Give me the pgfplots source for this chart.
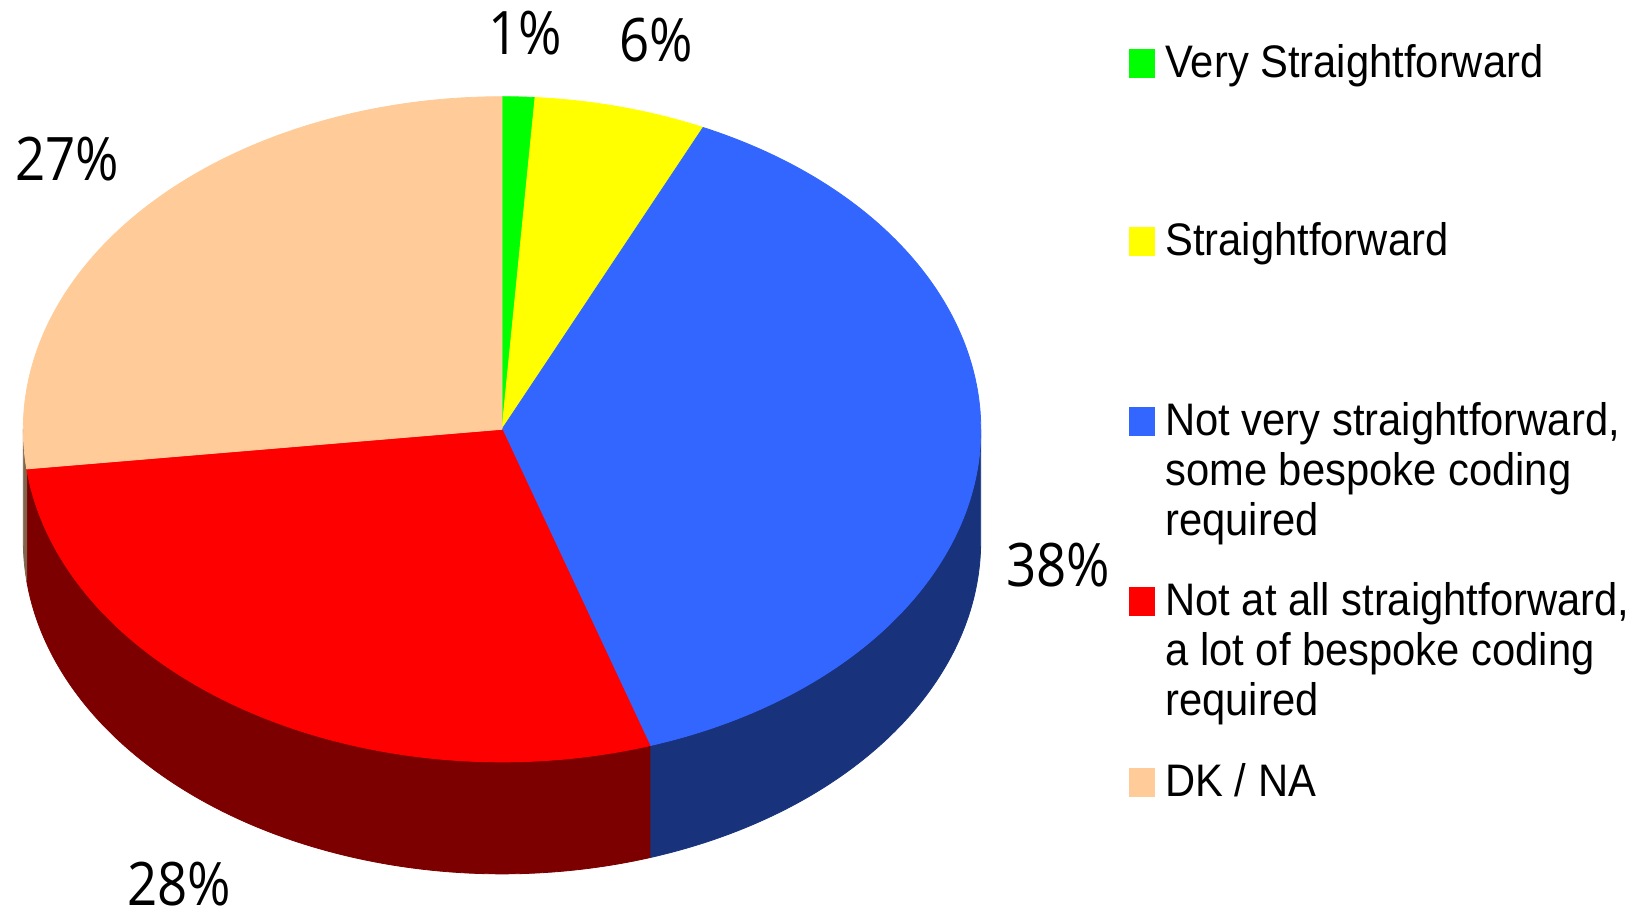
\documentclass[border=0pt]{standalone}
\usepackage{pgfplots}
\pgfplotsset{compat=1.18}
\usepackage{pgfplotstable}
\usepackage{fontspec}
\setmainfont{Liberation Sans}
\newfontfamily\pctfont[FakeStretch=0.88]{Open Sans}
\newfontfamily\legfont[FakeStretch=0.915]{Liberation Sans}
\definecolor{cGreen}{RGB}{0,255,0}
\definecolor{cYellow}{RGB}{255,255,0}
\definecolor{cBlue}{RGB}{51,102,255}
\definecolor{cRed}{RGB}{255,0,0}
\definecolor{cDK}{RGB}{255,204,153}
\definecolor{sBlue}{RGB}{24,51,124}
\definecolor{sRed}{RGB}{124,0,0}
\definecolor{sDK}{RGB}{128,102,77}

\pgfplotstableread{
idx value
0 1.1
1 5.8
2 38.1
3 28.1
4 26.9
}\piedata

\def\cx{502}\def\cy{429.3}\def\rx{478.7}\def\ry{332.6}
\def\rxl{239.35pt}\def\ryl{166.3pt}\def\depl{56pt}

\newcommand\topslice[3]{%
  \filldraw[fill=#1, draw=#1, line width=0.4pt, line join=round]
    (axis cs:\cx,\cy) -- (axis cs:{\cx+\rx*sin(#2)},{\cy-\ry*cos(#2)})
    arc[start angle={90-#2}, end angle={90-#3}, x radius=\rxl, y radius=\ryl] -- cycle;}
\newcommand\sideslice[3]{%
  \filldraw[fill=#1, draw=#1, line width=0.4pt, line join=round]
    (axis cs:{\cx+\rx*sin(#2)},{\cy-\ry*cos(#2)})
    arc[start angle={90-#2}, end angle={90-#3}, x radius=\rxl, y radius=\ryl]
    -- ++(0pt,-\depl)
    arc[start angle={90-#3}, end angle={90-#2}, x radius=\rxl, y radius=\ryl] -- cycle;}
\newcommand\legsq[2]{%
  \fill[#1] (axis cs:1129,{#2-28.5}) rectangle (axis cs:1155,{#2+0.5});}
\newcommand\legline[2]{%
  \node[anchor=base west, inner sep=0pt, font=\legfont\fontsize{22.8}{25}\selectfont]
    at (axis cs:1165,#1) {#2};}
\newcommand\pct[3]{%
  \node[inner sep=0pt, font=\pctfont\fontsize{30}{36}\selectfont] at (axis cs:#1,#2) {#3};}

\begin{document}
\begin{tikzpicture}
\pgfplotstablegetelem{0}{value}\of\piedata \let\vA\pgfplotsretval
\pgfplotstablegetelem{1}{value}\of\piedata \let\vB\pgfplotsretval
\pgfplotstablegetelem{2}{value}\of\piedata \let\vC\pgfplotsretval
\pgfplotstablegetelem{3}{value}\of\piedata \let\vD\pgfplotsretval
\pgfplotstablegetelem{4}{value}\of\piedata \let\vE\pgfplotsretval
\pgfmathsetmacro\tA{0}
\pgfmathsetmacro\tB{3.6*\vA}
\pgfmathsetmacro\tC{\tB+3.6*\vB}
\pgfmathsetmacro\tD{\tC+3.6*\vC}
\pgfmathsetmacro\tE{\tD+3.6*\vD}
\pgfmathsetmacro\tF{\tE+3.6*\vE}
\begin{axis}[
  x=0.5pt, y=0.5pt, y dir=reverse,
  xmin=0, xmax=1644, ymin=0, ymax=913,
  hide axis, clip=false,
]
% side faces
\sideslice{sBlue}{90}{\tD}
\sideslice{sRed}{\tD}{\tE}
\sideslice{sDK}{\tE}{270}
% top faces
\topslice{cGreen}{\tA}{\tB}
\topslice{cYellow}{\tB}{\tC}
\topslice{cBlue}{\tC}{\tD}
\topslice{cRed}{\tD}{\tE}
\topslice{cDK}{\tE}{\tF}
% data labels
\pct{525}{33.5}{1\%}
\pct{656.5}{40}{6\%}
\pct{1058}{565}{38\%}
\pct{179}{884}{28\%}
\pct{67.5}{159}{27\%}
% legend
\legsq{cGreen}{77.7}
\legline{77.7}{Very Straightforward}
\legsq{cYellow}{256}
\legline{256}{Straightforward}
\legsq{cBlue}{435.7}
\legline{435.7}{Not very straightforward,}
\legline{485.5}{some bespoke coding}
\legline{535.5}{required}
\legsq{cRed}{615.5}
\legline{615.5}{Not at all straightforward,}
\legline{665.5}{a lot of bespoke coding}
\legline{716}{required}
\legsq{cDK}{797}
\legline{797}{DK / NA}
\end{axis}
\pgfresetboundingbox
\path[use as bounding box] (current axis.south west) rectangle (current axis.north east);
\end{tikzpicture}
\end{document}
